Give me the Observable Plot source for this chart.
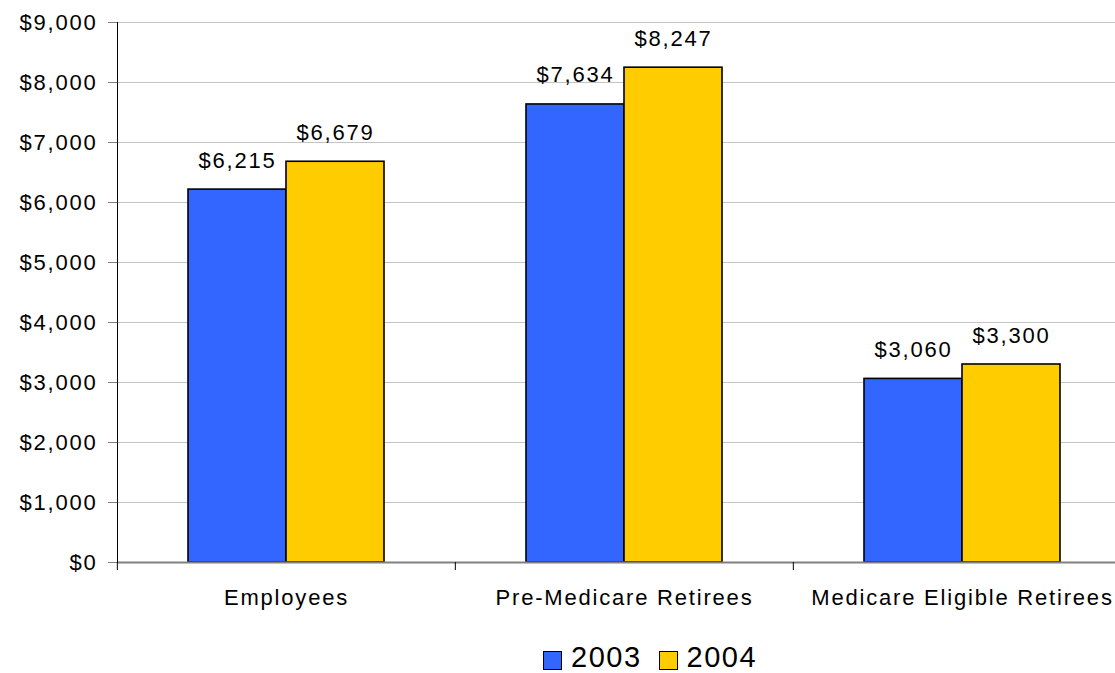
<!DOCTYPE html>
<html>
<head>
<meta charset="utf-8">
<script src="https://cdn.jsdelivr.net/npm/d3@7"></script>
<script src="https://cdn.jsdelivr.net/npm/@observablehq/plot@0.6"></script>
<style>
  html, body { margin: 0; padding: 0; background: #fff; overflow: hidden; }
  #wrap { position: relative; width: 1115px; height: 673px; overflow: hidden; }
  #chart svg { max-width: none !important; }
  #chart text { letter-spacing: 1.8px; }
  #legend { position: absolute; left: 543px; top: 643px; height: 29px; display: flex; align-items: center; line-height: 1;
            font-family: "Liberation Sans", Arial, sans-serif; font-size: 29px; letter-spacing: 1.5px; color: #000; }
  #legend .sw { width: 17px; height: 17px; border: 1.5px solid #000; display: inline-block; margin-right: 9px; position: relative; top: 3px; }
  #legend .item { display: flex; align-items: center; margin-right: 17px; height: 29px; }
</style>
</head>
<body>
<div id="wrap">
  <div id="chart"></div>
  <div id="legend"></div>
</div>
<script>
const categories = ["Employees", "Pre-Medicare Retirees", "Medicare Eligible Retirees"];
const years = ["2003", "2004"];
const values2003 = [6215, 7634, 3060];
const values2004 = [6679, 8247, 3300];
const yTicks = [0, 1000, 2000, 3000, 4000, 5000, 6000, 7000, 8000, 9000];
const colors = ["#3366FF", "#FFCC00"];

const data = [];
categories.forEach((c, i) => {
  data.push({category: c, year: years[0], value: values2003[i]});
  data.push({category: c, year: years[1], value: values2004[i]});
});

const W = 1131, H = 626, mL = 116, mR = 0, mT = 22, mB = 64;
const step = (W - mL - mR) / categories.length;
const money = d => "$" + d3.format(",")(d);

const chart = Plot.plot({
  width: W, height: H,
  marginLeft: mL, marginRight: mR, marginTop: mT, marginBottom: mB,
  style: {fontFamily: "'Liberation Sans', Arial, sans-serif", fontSize: "22px", color: "#000", background: "#fff", maxWidth: "none"},
  fx: {domain: categories, padding: 0, label: null},
  x: {domain: years, paddingInner: 0, paddingOuter: 0.724, axis: null},
  y: {domain: [0, 9000], label: null},
  color: {domain: years, range: colors},
  marks: [
    Plot.ruleY(yTicks.filter(d => d > 0), {stroke: "#c4c4c4", strokeWidth: 1}),
    Plot.barY(data, {fx: "category", x: "year", y: "value", fill: "year", stroke: "#000", strokeWidth: 1.6}),
    Plot.text(data, {fx: "category", x: "year", y: "value", text: d => money(d.value), lineAnchor: "bottom", dy: -22, fontSize: 22}),
    Plot.ruleY([0], {stroke: "#808080", strokeWidth: 2}),
    Plot.frame({anchor: "left", facetAnchor: "left", stroke: "#000"}),
    Plot.axisY({ticks: yTicks, tickFormat: money, tickSize: 9, tickPadding: 11, stroke: "#808080", strokeOpacity: 1, fontSize: 22, label: null}),
    Plot.axisFx({anchor: "bottom", tickSize: 8, tickFormat: () => "", dx: -step / 2, stroke: "#000", strokeOpacity: 1, label: null}),
    Plot.axisFx({anchor: "bottom", tickSize: 0, tickPadding: 27, fontSize: 22, label: null})
  ]
});
document.getElementById("chart").appendChild(chart);

const legend = document.getElementById("legend");
years.forEach((y, i) => {
  const item = document.createElement("span");
  item.className = "item";
  const sw = document.createElement("span");
  sw.className = "sw";
  sw.style.background = colors[i];
  item.appendChild(sw);
  item.appendChild(document.createTextNode(y));
  legend.appendChild(item);
});
</script>
</body>
</html>
